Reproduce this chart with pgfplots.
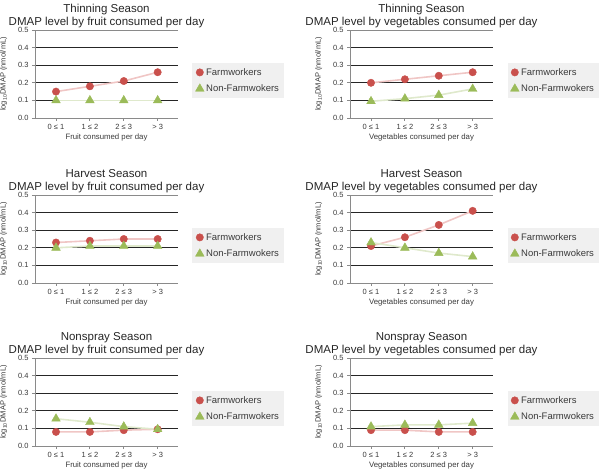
\documentclass[border=0pt]{standalone}
\usepackage{fontspec}
\setmainfont{Liberation Sans}
\usepackage{pgfplots}
\usepackage{pgfplotstable}
\pgfplotsset{compat=1.18}
\definecolor{redm}{HTML}{C9504C}
\definecolor{redl}{HTML}{F0C6C5}
\definecolor{grnm}{HTML}{9BBB59}
\definecolor{grnl}{HTML}{DFE9CC}
\definecolor{axgray}{HTML}{8A8A8A}
\definecolor{txt}{HTML}{3A3A3A}
\definecolor{legbg}{HTML}{F0F0F0}

% x: 0 = "0<=1", 1 = "1<=2", 2 = "2<=3", 3 = ">3"
\pgfplotstableread{
x farm non
0 0.150 0.100
1 0.180 0.100
2 0.210 0.100
3 0.260 0.100
}\tThinFruit
\pgfplotstableread{
x farm non
0 0.200 0.095
1 0.220 0.110
2 0.240 0.130
3 0.260 0.165
}\tThinVeg
\pgfplotstableread{
x farm non
0 0.230 0.200
1 0.240 0.210
2 0.250 0.210
3 0.250 0.210
}\tHarvFruit
\pgfplotstableread{
x farm non
0 0.210 0.230
1 0.260 0.200
2 0.330 0.170
3 0.410 0.150
}\tHarvVeg
\pgfplotstableread{
x farm non
0 0.080 0.155
1 0.080 0.135
2 0.090 0.110
3 0.095 0.095
}\tNonFruit
\pgfplotstableread{
x farm non
0 0.090 0.110
1 0.090 0.120
2 0.080 0.120
3 0.080 0.130
}\tNonVeg

\pgfplotsset{
  panel/.style={
    scale only axis, width=143pt, height=88pt,
    anchor=south west,
    xmin=-0.62, xmax=3.6, ymin=0, ymax=0.5,
    xtick={0,1,2,3},
    xticklabels={0 ≤ 1, 1 ≤ 2, 2 ≤ 3, > 3},
    ytick={0.1,0.2,0.3,0.4},
    yticklabels={0.1,0.2,0.3,0.4},
    extra y ticks={0,0.5},
    extra y tick labels={0.0,0.5},
    extra y tick style={ymajorgrids=true, grid style={axgray, line width=0.8pt}},
    ymajorgrids, grid style={black!85, line width=1.3pt},
    axis x line*=bottom, axis y line*=left,
    axis line style={axgray, line width=0.8pt},
    tick style={axgray, line width=0.8pt},
    tick align=outside, major tick length=3pt,
    ticklabel style={font=\fontsize{7.5}{8}\selectfont, text=txt},
    xlabel style={font=\fontsize{7.8}{8}\selectfont, text=txt, yshift=3pt},
    ylabel style={font=\fontsize{7.5}{8}\selectfont, text=txt, yshift=-2pt},
    ylabel={log\textsubscript{10}DMAP (nmol/mL)},
    title style={font=\fontsize{11.5}{13}\selectfont, align=center, text=black!85, inner sep=1pt, yshift=-5pt},
    legend style={at={(1.1,0.625)}, anchor=north west, fill=legbg, draw=none,
      font=\fontsize{9.5}{11}\selectfont, text=txt, row sep=4pt, inner xsep=3pt, inner ysep=3pt},
    legend cell align=left,
    legend image code/.code={\draw[##1] plot coordinates {(4pt,0pt)};},
  },
  fline/.style={redl, line width=1.6pt, forget plot},
  nline/.style={grnl, line width=1.6pt, forget plot},
  fmark/.style={only marks, mark=*, mark size=3.7pt, mark options={fill=redm, draw=redm}},
  nmark/.style={only marks, mark=triangle*, mark size=5pt, mark options={fill=grnm, draw=grnm}},
}

\begin{document}
\begin{tikzpicture}
\useasboundingbox (0,0) rectangle (600pt,472pt);

\begin{axis}[panel, at={(35pt,354pt)},
  title={Thinning Season\\DMAP level by fruit consumed per day},
  xlabel={Fruit consumed per day}]
  \addplot[fline] table[x=x,y=farm] {\tThinFruit};
  \addplot[nline] table[x=x,y=non] {\tThinFruit};
  \addplot[fmark] table[x=x,y=farm] {\tThinFruit};
  \addplot[nmark] table[x=x,y=non] {\tThinFruit};
  \legend{Farmworkers, Non-Farmwokers}
\end{axis}

\begin{axis}[panel, at={(350pt,354pt)},
  title={Thinning Season\\DMAP level by vegetables consumed per day},
  xlabel={Vegetables consumed per day}]
  \addplot[fline] table[x=x,y=farm] {\tThinVeg};
  \addplot[nline] table[x=x,y=non] {\tThinVeg};
  \addplot[fmark] table[x=x,y=farm] {\tThinVeg};
  \addplot[nmark] table[x=x,y=non] {\tThinVeg};
  \legend{Farmworkers, Non-Farmwokers}
\end{axis}

\begin{axis}[panel, at={(35pt,189pt)},
  title={Harvest Season\\DMAP level by fruit consumed per day},
  xlabel={Fruit consumed per day}]
  \addplot[fline] table[x=x,y=farm] {\tHarvFruit};
  \addplot[nline] table[x=x,y=non] {\tHarvFruit};
  \addplot[fmark] table[x=x,y=farm] {\tHarvFruit};
  \addplot[nmark] table[x=x,y=non] {\tHarvFruit};
  \legend{Farmworkers, Non-Farmwokers}
\end{axis}

\begin{axis}[panel, at={(350pt,189pt)},
  title={Harvest Season\\DMAP level by vegetables consumed per day},
  xlabel={Vegetables consumed per day}]
  \addplot[fline] table[x=x,y=farm] {\tHarvVeg};
  \addplot[nline] table[x=x,y=non] {\tHarvVeg};
  \addplot[fmark] table[x=x,y=farm] {\tHarvVeg};
  \addplot[nmark] table[x=x,y=non] {\tHarvVeg};
  \legend{Farmworkers, Non-Farmwokers}
\end{axis}

\begin{axis}[panel, at={(35pt,26pt)},
  title={Nonspray Season\\DMAP level by fruit consumed per day},
  xlabel={Fruit consumed per day}]
  \addplot[fline] table[x=x,y=farm] {\tNonFruit};
  \addplot[nline] table[x=x,y=non] {\tNonFruit};
  \addplot[fmark] table[x=x,y=farm] {\tNonFruit};
  \addplot[nmark] table[x=x,y=non] {\tNonFruit};
  \legend{Farmworkers, Non-Farmwokers}
\end{axis}

\begin{axis}[panel, at={(350pt,26pt)},
  title={Nonspray Season\\DMAP level by vegetables consumed per day},
  xlabel={Vegetables consumed per day}]
  \addplot[fline] table[x=x,y=farm] {\tNonVeg};
  \addplot[nline] table[x=x,y=non] {\tNonVeg};
  \addplot[fmark] table[x=x,y=farm] {\tNonVeg};
  \addplot[nmark] table[x=x,y=non] {\tNonVeg};
  \legend{Farmworkers, Non-Farmwokers}
\end{axis}
\end{tikzpicture}
\end{document}
